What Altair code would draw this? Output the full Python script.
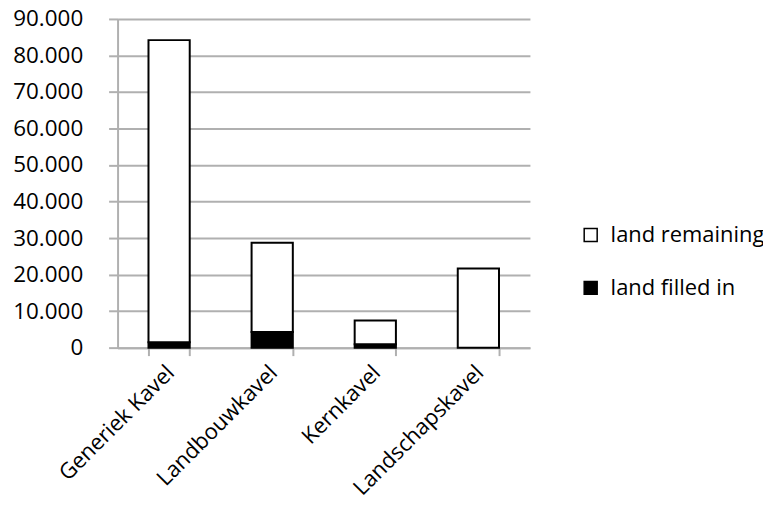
import altair as alt
import pandas as pd

categories = ["Generiek Kavel", "Landbouwkavel", "Kernkavel", "Landschapskavel"]
land_filled_in = [1500, 4300, 900, 0]
land_remaining = [82700, 24400, 6500, 21700]

rows = []
for c, f, r in zip(categories, land_filled_in, land_remaining):
    rows.append({"cat": c, "series": "land filled in", "value": f, "ord": 0})
    rows.append({"cat": c, "series": "land remaining", "value": r, "ord": 1})
df = pd.DataFrame(rows)
df = df[df["value"] > 0]

FONT = "Open Sans"
GRID = "#b0b0b0"
FS = 22

chart = alt.Chart(df).mark_bar(stroke="black", strokeWidth=2).encode(
    x=alt.X("cat:N", sort=categories, title=None,
            scale=alt.Scale(paddingInner=0.6, paddingOuter=0.3),
            axis=alt.Axis(labelAngle=-45, labelFont=FONT, labelFontSize=FS,
                          labelColor="black", tickBand="extent", tickSize=8,
                          tickColor=GRID, domainColor=GRID, domainWidth=2,
                          tickWidth=2, labelPadding=6, labelOffset=-6,
                          grid=False)),
    y=alt.Y("value:Q", stack="zero", title=None,
            scale=alt.Scale(domain=[0, 90000], nice=False),
            axis=alt.Axis(values=list(range(0, 90001, 10000)),
                          labelExpr="replace(format(datum.value, ','), ',', '.')",
                          labelFont=FONT, labelFontSize=FS + 0.5, labelColor="black",
                          tickSize=9, tickColor=GRID, domainColor=GRID,
                          domainWidth=2, tickWidth=2, gridColor=GRID,
                          gridWidth=2, labelPadding=26)),
    color=alt.Color("series:N", title=None,
                    scale=alt.Scale(domain=["land remaining", "land filled in"],
                                    range=["white", "black"]),
                    legend=alt.Legend(orient="none", legendX=464, legendY=206,
                                      symbolType="square", symbolSize=170,
                                      symbolStrokeColor="black",
                                      symbolStrokeWidth=1.5,
                                      labelFont=FONT, labelFontSize=FS,
                                      labelColor="black", rowPadding=31,
                                      labelOffset=9)),
    order=alt.Order("ord:Q"),
).properties(
    width=414, height=330,
    autosize=alt.AutoSizeParams(type="none"),
    padding={"left": 110, "top": 10, "right": 234, "bottom": 156},
).configure_view(stroke=None)

chart.save("out.html", embed_options={"renderer": "svg", "actions": False})
